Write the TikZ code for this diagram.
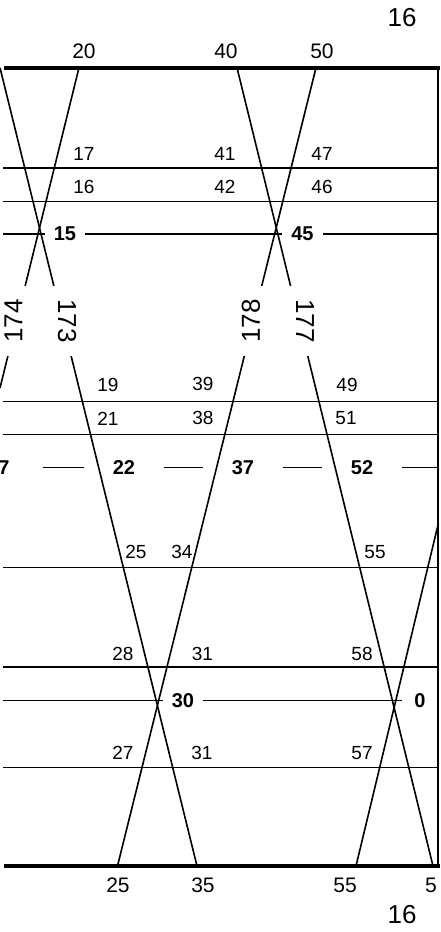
\documentclass[tikz,border=0pt]{standalone}
\usepackage{fontspec}
\setmainfont{Liberation Sans}
\begin{document}
\begin{tikzpicture}[x=1pt, y=-1pt,
  track/.style={line width=1.1pt},
  trainline/.style={line width=1.6pt},
  biglab/.style={font=\fontsize{26}{26}\selectfont, inner sep=0pt},
  endlab/.style={font=\fontsize{21}{21}\selectfont, inner sep=0pt},
  numlab/.style={font=\fontsize{19}{19}\selectfont, inner sep=0pt},
  stnlab/.style={font=\fontsize{20}{20}\selectfont\bfseries, inner xsep=9pt, inner ysep=0pt},
  trainlab/.style={font=\fontsize{26}{26}\selectfont, fill=white, inner xsep=13pt, inner ysep=6pt}]
  \useasboundingbox (0,0) rectangle (440,932);

  %% Train paths run from the top rule to the bottom rule; the last
  %% one enters from the right edge.
  \foreach \nm/\xa/\ya/\xb/\yb in {173/0/67.7/197/866, 174/79/67.7/0/388,
      177/237/67.7/433/866, 178/316/67.7/117.5/866, 5/437.5/527/356/866} {
    \coordinate (t\nm) at (\xa,\ya);
    \coordinate (b\nm) at (\xb,\yb);
    \draw[trainline] (t\nm) -- (b\nm);
  }
  %% Train numbers sit in a white gap on their paths.
  \foreach \nm/\x/\r in {174/13.5/90, 173/67/-90, 178/251/90, 177/305/-90}
    \node[trainlab, rotate=\r] (lab\nm) at (\x,321) {\nm};

  %% Frame: heavy top and bottom rules, light right edge.
  \coordinate (top-w) at (4,67.7);
  \coordinate (top-e) at (440,67.7);
  \coordinate (bot-w) at (4,866);
  \coordinate (bot-e) at (440,866);
  \coordinate (edge-n) at (438,67.7);
  \coordinate (edge-s) at (438,866);
  \draw[line width=2.2pt] (edge-n) -- (edge-s);
  \draw[line width=3.6pt] (top-w) -- (top-e);
  \draw[line width=3.6pt] (bot-w) -- (bot-e);

  %% Plain station lines.
  \foreach \y [count=\i] in {168, 201.5, 401.5, 434.3, 567.3, 667, 767.5} {
    \coordinate (w\i) at (3,\y);
    \coordinate (e\i) at (438,\y);
    \draw[track] (w\i) -- (e\i);
  }

  %% Station lines broken by the crossing minutes.
  \coordinate (w15) at (3,234);
  \coordinate (e15) at (438,234);
  \node[stnlab] (n15) at (65,234) {15};
  \node[stnlab] (n45) at (302.5,234) {45};
  \draw[track] (w15) -- (n15) -- (n45) -- (e15);

  \foreach \t/\x in {22/124, 37/243, 52/362}
    \node[stnlab, inner xsep=29pt] (n\t) at (\x,467.3) {\t};
  \node[stnlab, inner xsep=33pt] (n7) at (4,467.3) {7};
  \coordinate (e52) at (438,467.3);
  \draw[track] (n7) -- (n22) (n22) -- (n37) (n37) -- (n52) (n52) -- (e52);

  \coordinate (w30) at (3,700.7);
  \node[stnlab] (n30) at (183,700.7) {30};
  \node[stnlab, inner xsep=12pt] (n0) at (420,700.7) {0};
  \draw[track] (w30) -- (n30) -- (n0);

  %% Minutes beside the paths.
  \foreach \x/\y/\t [count=\i] in {84/154/17, 225/154/41, 322/154/47,
      84/187/16, 225/187/42, 322/187/46,
      108/385/19, 203/384/39, 347/385/49,
      108/418.5/21, 203/418/38, 346/418/51,
      136/552/25, 182/552/34, 375/552/55,
      123/653.5/28, 202.5/653.5/31, 362/653.5/58,
      123/753/27, 202/753/31, 362/753/57}
    \node[numlab] (m\i) at (\x,\y) {\t};

  %% Minutes at the ends of the paths, and the hour.
  \foreach \x/\t [count=\i] in {84/20, 226/40, 322/50}
    \node[endlab] (top\i) at (\x,51) {\t};
  \foreach \x/\t [count=\i] in {118/25, 203/35, 345/55, 431/5}
    \node[endlab] (bot\i) at (\x,885) {\t};
  \node[biglab] (hour-n) at (402,17.5) {16};
  \node[biglab] (hour-s) at (402,915) {16};
\end{tikzpicture}
\end{document}
